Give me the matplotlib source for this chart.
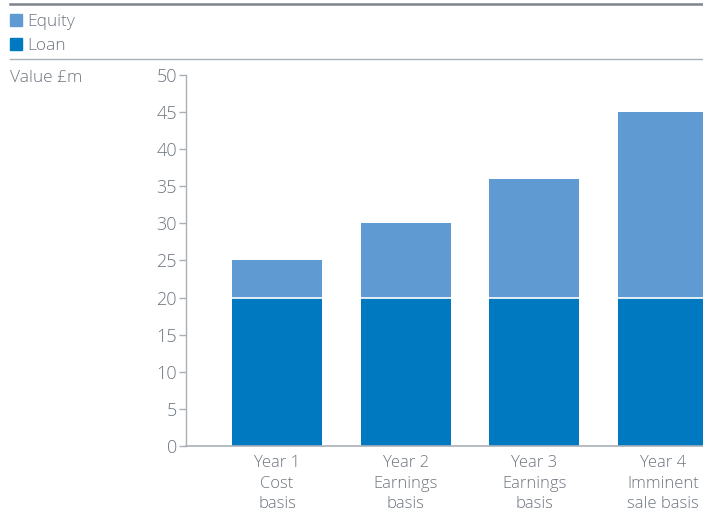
import matplotlib
matplotlib.use("Agg")
import matplotlib.pyplot as plt
from matplotlib.patches import Rectangle
from matplotlib.lines import Line2D

categories = ["Year 1\nCost\nbasis", "Year 2\nEarnings\nbasis", "Year 3\nEarnings\nbasis", "Year 4\nImminent\nsale basis"]
loan = [20, 20, 20, 20]
equity = [5, 10, 16, 25]
yticks = [0, 5, 10, 15, 20, 25, 30, 35, 40, 45, 50]

C_EQ = "#5f9bd2"
C_LOAN = "#0079c1"
GRAY = "#6e7680"
AXC = "#a9b0b7"

plt.rcParams['font.family'] = ['Open Sans', 'DejaVu Sans']
plt.rcParams['font.weight'] = 'light'

fig = plt.figure(figsize=(7.03, 5.13), dpi=100)
ax = fig.add_axes([186/703, (513-446)/513, 1-186/703, (446-75)/513])

x = list(range(len(categories)))
w = 0.70
ax.bar(x, loan, width=w, color=C_LOAN, edgecolor="none", zorder=2)
ax.bar(x, equity, width=w, bottom=loan, color=C_EQ, edgecolor="none", zorder=2)
for xi, l in zip(x, loan):
    ax.plot([xi - w/2, xi + w/2], [l, l], color="white", lw=1.2, zorder=3)

ax.set_xlim(-0.707, 3.31)
ax.set_ylim(0, 50)
ax.set_yticks(yticks)
ax.set_xticks(x)
ax.set_xticklabels(categories, fontsize=12, color=GRAY, linespacing=1.38)
ax.tick_params(axis='y', labelsize=13, labelcolor=GRAY, color=AXC, length=5, width=1, pad=1.5)
ax.tick_params(axis='x', length=0, pad=6.5)
for s in ["top", "right"]:
    ax.spines[s].set_visible(False)
ax.spines["left"].set_color(AXC)
ax.spines["bottom"].set_color(AXC)
ax.spines["left"].set_linewidth(1)
ax.spines["bottom"].set_linewidth(1.2)
ax.spines["bottom"].set_zorder(4)

# header lines and legend
fig.add_artist(Line2D([10/703, 1], [1 - 4/513, 1 - 4/513], color="#7c838a", lw=1.8))
fig.add_artist(Line2D([10/703, 1], [1 - 59/513, 1 - 59/513], color=AXC, lw=1))
for i, (lab, c) in enumerate([("Equity", C_EQ), ("Loan", C_LOAN)]):
    yc = 20 + i * 24
    fig.add_artist(Rectangle((10/703, 1 - (yc + 6)/513), 12/703, 12/513, color=c))
    fig.text(27/703, 1 - (yc + 2)/513, lab, fontsize=12.5, color=GRAY, va="center", ha="left")
fig.text(10/703, 1 - 78/513, "Value £m", fontsize=12.5, color=GRAY, va="center", ha="left")

fig.savefig("out.png", dpi=100)
